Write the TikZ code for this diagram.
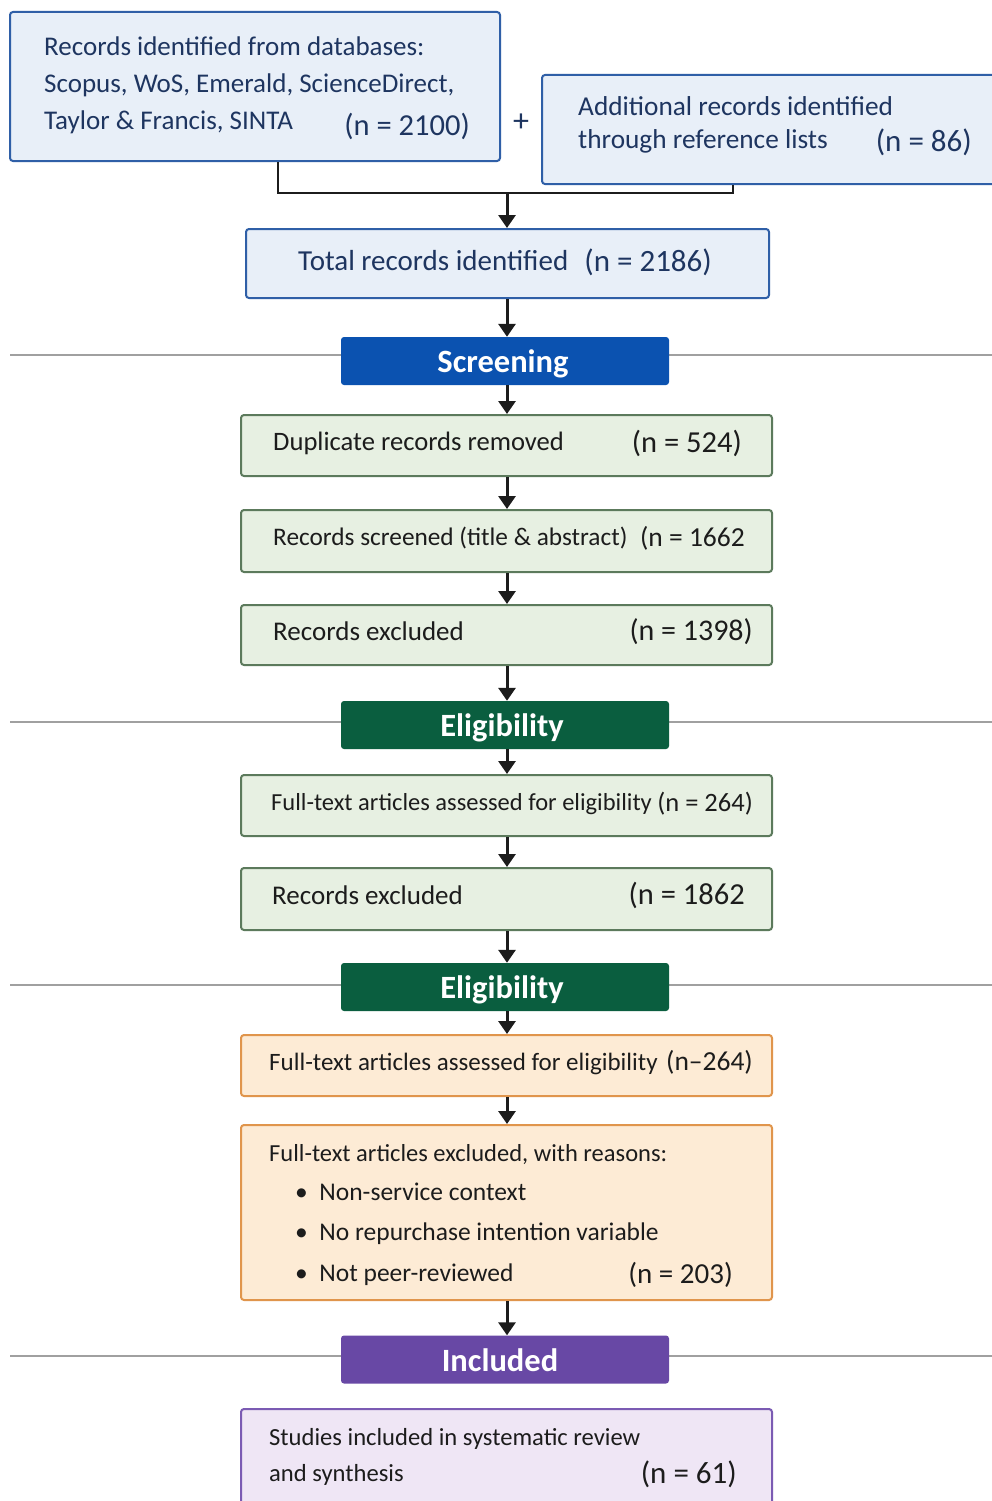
\documentclass[tikz,border=0pt]{standalone}
\usepackage{fontspec}
\setmainfont{Carlito}
\usetikzlibrary{arrows.meta}
\definecolor{bluefill}{HTML}{E8EFF8}
\definecolor{blueedge}{HTML}{2F5FA7}
\definecolor{navy}{HTML}{1E3560}
\definecolor{bluehead}{HTML}{0B52B0}
\definecolor{greenfill}{HTML}{E7F0E2}
\definecolor{greenedge}{HTML}{5C7A5C}
\definecolor{greenhead}{HTML}{0A5E3F}
\definecolor{orfill}{HTML}{FDEBD5}
\definecolor{oredge}{HTML}{E0954C}
\definecolor{purphead}{HTML}{6848A5}
\definecolor{purpfill}{HTML}{EFE6F5}
\definecolor{purpedge}{HTML}{7B5BB3}
\definecolor{sepgray}{HTML}{A0A0A0}
\definecolor{ink}{HTML}{1C1C1C}
\newcommand{\fs}[1]{\fontsize{#1}{#1}\selectfont}
\tikzset{
  x=1pt, y=-1pt,
  boxbase/.style={draw, rounded corners=3pt, line width=2pt, inner sep=0pt},
  bluebox/.style={boxbase, fill=bluefill, draw=blueedge},
  greenbox/.style={boxbase, fill=greenfill, draw=greenedge},
  orbox/.style={boxbase, fill=orfill, draw=oredge},
  purpbox/.style={boxbase, fill=purpfill, draw=purpedge},
  header/.style={rounded corners=3pt, inner sep=0pt, minimum width=328pt, minimum height=48pt,
     text=white, font=\fs{32.5}\bfseries},
  htxt/.style={inner sep=0pt, text=white, font=\fs{32.5}\bfseries, anchor=mid, yshift=-9pt},
  txt/.style={inner sep=0pt, text=ink, font=\fs{26.5}, yshift=-6pt},
  btxt/.style={inner sep=0pt, text=navy, font=\fs{27}, yshift=-6pt},
  arr/.style={line width=3pt, draw=ink, -{Triangle[width=17pt,length=13pt]}},
  link/.style={line width=2.5pt, draw=ink},
  sep/.style={line width=1.5pt, draw=sepgray}
}
\begin{document}
\begin{tikzpicture}
\useasboundingbox (0,0) rectangle (992,1501);
\clip (0,0) rectangle (992,1501);
\fill[white] (0,0) rectangle (992,1501);

% separator lines
\draw[sep] (10,355) -- (341,355);
\draw[sep] (669,355) -- (992,355);
\draw[sep] (10,722) -- (341,722);
\draw[sep] (669,722) -- (992,722);
\draw[sep] (10,985) -- (341,985);
\draw[sep] (669,985) -- (992,985);
\draw[sep] (10,1356) -- (341,1356);
\draw[sep] (669,1356) -- (992,1356);

% identification boxes
\node[bluebox, minimum width=490pt, minimum height=149pt] (db) at (255,86.5) {};
\node[bluebox, minimum width=468pt, minimum height=109pt] (ref) at (776,129.5) {};
\node[btxt, anchor=mid west] (dbA) at (44,47) {Records identified from databases:};
\node[btxt, anchor=mid west] (dbB) at (44,84) {Scopus, WoS, Emerald, ScienceDirect,};
\node[btxt, anchor=mid west] (dbC) at (44,121) {Taylor \& Francis, SINTA};
\node[btxt, anchor=mid east, font=\fs{30.5}] (dbN) at (470,127) {(n = 2100)};
\node[btxt, anchor=center, font=\fs{32}] (plus) at (521,117) {+};
\node[btxt, anchor=mid west, font=\fs{27.3}] (refA) at (578,107) {Additional records identified};
\node[btxt, anchor=mid west, font=\fs{27.3}] (refB) at (578,140) {through reference lists};
\node[btxt, anchor=mid east, font=\fs{31}] (refN) at (972,143) {(n = 86)};

\node[bluebox, minimum width=523pt, minimum height=69pt] (tot) at (507.5,263.5) {};
\node[btxt, anchor=mid west, font=\fs{29}] (totL) at (298,262) {Total records identified};
\node[btxt, anchor=mid east, font=\fs{31}] (totN) at (712,263) {(n = 2186)};

\coordinate (j1) at (278,193);
\coordinate (j2) at (733,193);
\coordinate (jm) at (507,193);
\draw[link] (db.south -| j1) -- (j1) -- (j2) -- (ref.south -| j2);
\draw[arr] (jm) -- (tot.north -| jm);

% screening
\node[header, fill=bluehead] (screen) at (505,361) {};
\node[htxt] (screenT) at (503,361) {Screening};
\draw[arr] (tot.south -| jm) -- (screen.north -| jm);

\node[greenbox, minimum width=531pt, minimum height=61pt] (dup) at (506.5,445.5) {};
\node[txt, anchor=mid west, font=\fs{26.6}] (dupL) at (273,442) {Duplicate records removed};
\node[txt, anchor=mid east, font=\fs{30.5}] (dupN) at (742,444) {(n = 524)};

\node[greenbox, minimum width=531pt, minimum height=62pt] (scr) at (506.5,541) {};
\node[txt, anchor=mid west, font=\fs{25.3}] (scrL) at (273,537) {Records screened (title \& abstract)};
\node[txt, anchor=mid east, font=\fs{27.5}] (scrN) at (745,538) {(n = 1662};

\node[greenbox, minimum width=531pt, minimum height=60pt] (ex1) at (506.5,635) {};
\node[txt, anchor=mid west, font=\fs{27}] (ex1L) at (273,632) {Records excluded};
\node[txt, anchor=mid east, font=\fs{30}] (ex1N) at (753,632) {(n = 1398)};

\draw[arr] (screen.south -| jm) -- (dup.north -| jm);
\draw[arr] (dup.south -| jm) -- (scr.north -| jm);
\draw[arr] (scr.south -| jm) -- (ex1.north -| jm);

% eligibility 1
\node[header, fill=greenhead] (el1) at (505,725) {};
\node[htxt] (el1T) at (502,725) {Eligibility};
\draw[arr] (ex1.south -| jm) -- (el1.north -| jm);

\node[greenbox, minimum width=531pt, minimum height=61pt] (ft1) at (506.5,805.5) {};
\node[txt, anchor=mid west, font=\fs{24.5}] (ft1L) at (271,802) {Full-text articles assessed for eligibility};
\node[txt, anchor=mid east, font=\fs{26.5}] (ft1N) at (753,803) {(n = 264)};

\node[greenbox, minimum width=531pt, minimum height=62pt] (ex2) at (506.5,899) {};
\node[txt, anchor=mid west, font=\fs{27}] (ex2L) at (272,896) {Records excluded};
\node[txt, anchor=mid east, font=\fs{30.5}] (ex2N) at (745,896) {(n = 1862};

\draw[arr] (el1.south -| jm) -- (ft1.north -| jm);
\draw[arr] (ft1.south -| jm) -- (ex2.north -| jm);

% eligibility 2
\node[header, fill=greenhead] (el2) at (505,987) {};
\node[htxt] (el2T) at (502,987) {Eligibility};
\draw[arr] (ex2.south -| jm) -- (el2.north -| jm);

\node[orbox, minimum width=531pt, minimum height=61pt] (ft2) at (506.5,1065.5) {};
\node[txt, anchor=mid west, font=\fs{25}] (ft2L) at (269,1062) {Full-text articles assessed for eligibility};
\node[txt, anchor=mid east, font=\fs{27.5}] (ft2N) at (753,1062) {(n–264)};

\node[orbox, minimum width=531pt, minimum height=175pt] (exr) at (506.5,1212.5) {};
\node[txt, anchor=mid west, font=\fs{24.5}] (exrA) at (269,1153) {Full-text articles excluded, with reasons:};
\node[txt, anchor=mid west, font=\fs{25.5}] (exrB) at (295,1192) {\textbullet\ \ Non-service context};
\node[txt, anchor=mid west, font=\fs{25.5}] (exrC) at (295,1232) {\textbullet\ \ No repurchase intention variable};
\node[txt, anchor=mid west, font=\fs{25.5}] (exrD) at (295,1273) {\textbullet\ \ Not peer-reviewed};
\node[txt, anchor=mid east, font=\fs{29}] (exrN) at (733,1275) {(n = 203)};

\draw[arr] (el2.south -| jm) -- (ft2.north -| jm);
\draw[arr] (ft2.south -| jm) -- (exr.north -| jm);

% included
\node[header, fill=purphead] (inc) at (505,1359.5) {};
\node[htxt] (incT) at (500,1360) {Included};
\draw[arr] (exr.south -| jm) -- (inc.north -| jm);

\node[purpbox, minimum width=531pt, minimum height=111pt] (fin) at (506.5,1464.5) {};
\node[txt, anchor=mid west, font=\fs{24.6}] (finA) at (269,1437) {Studies included in systematic review};
\node[txt, anchor=mid west, font=\fs{24.6}] (finB) at (269,1473) {and synthesis};
\node[txt, anchor=mid east, font=\fs{31}] (finN) at (737,1475) {(n = 61)};
\end{tikzpicture}
\end{document}
